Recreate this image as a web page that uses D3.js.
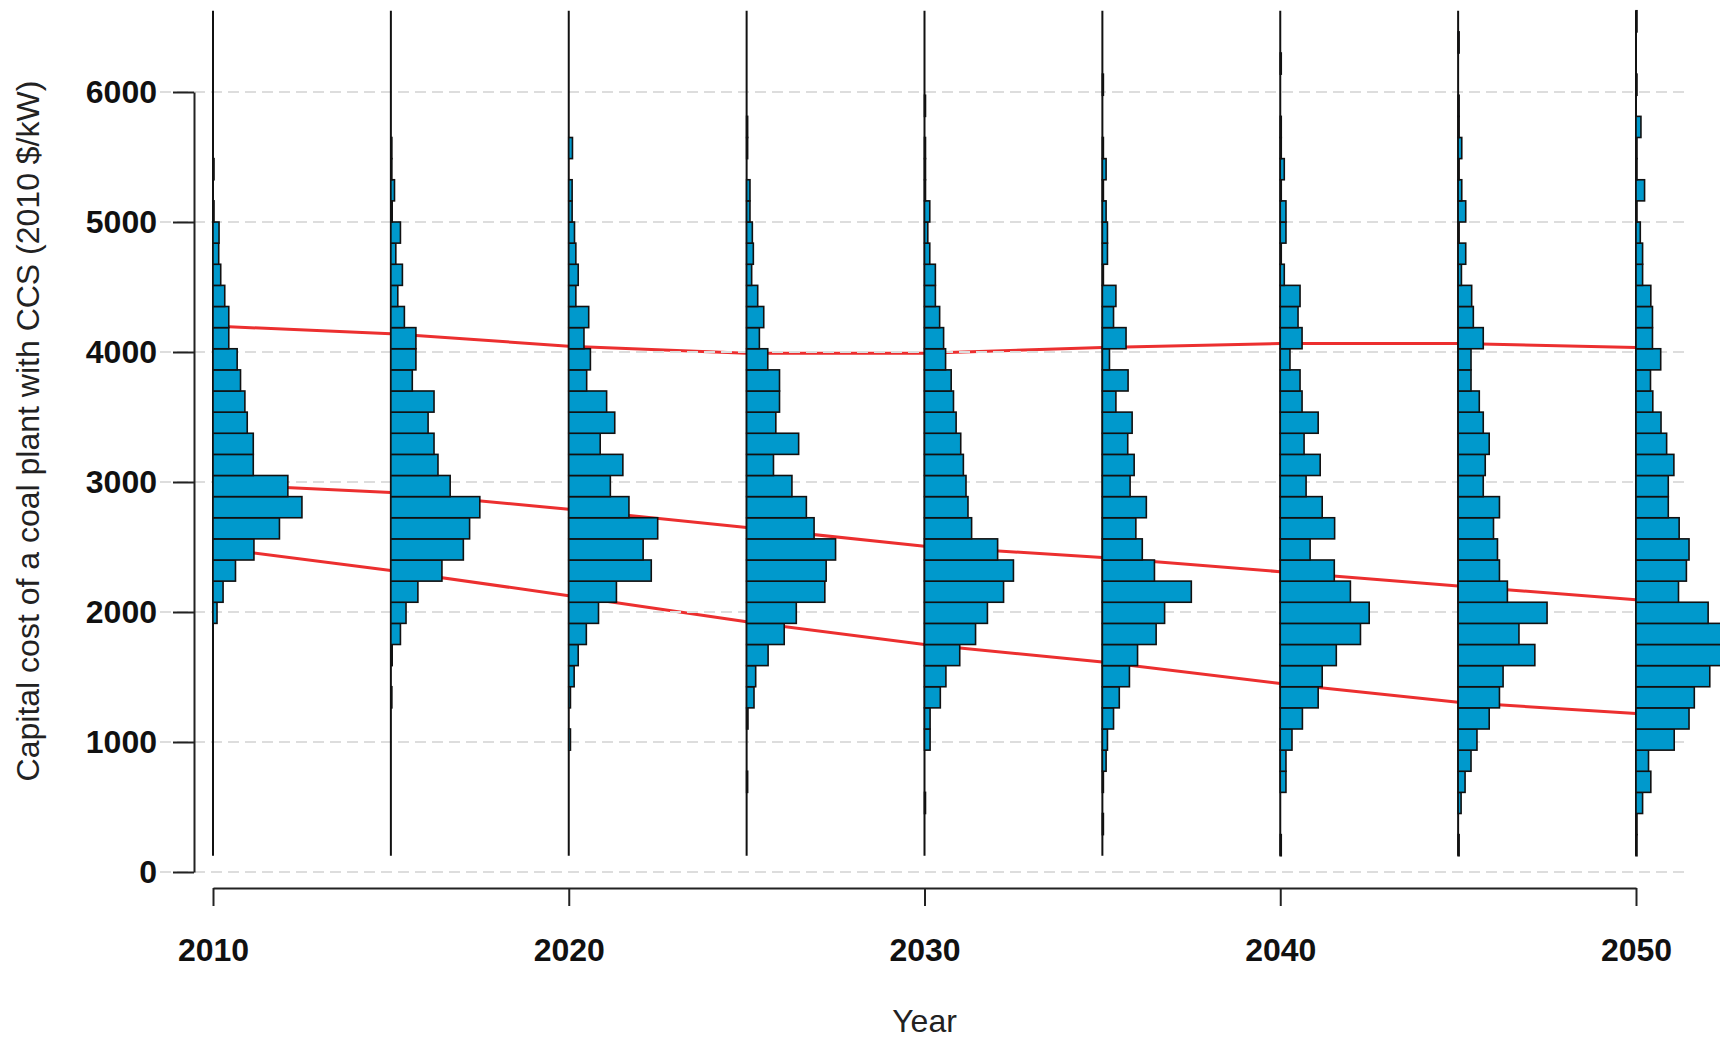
<!DOCTYPE html>
<html>
<head>
<meta charset="utf-8">
<script src="https://cdn.jsdelivr.net/npm/d3@7"></script>
<style>
  html, body { margin: 0; padding: 0; background: #fff; }
  svg { display: block; }
</style>
</head>
<body>
<div id="chart"></div>
<script>
// Capital cost of a coal plant with CCS: sampled distributions every 5 years,
// drawn as sideways histograms, with three red percentile lines across them.

const years = [2010, 2015, 2020, 2025, 2030, 2035, 2040, 2045, 2050];

// histogram breaks: 40 bins of 162.5 $/kW starting at 125
const BIN_START = 125;
const BIN_WIDTH = 162.5;

// counts per bin, lowest bin first (relative)
const hist2010 = [0,0,0,0,0,0,0,0,0,0, 0,12,30,67,122,198,265,223,120,120, 102,95,82,72,47,47,35,23,17,18, 3,0,3,0,0,0,0,0,0,0];
const hist2015 = [0,0,0,0,0,0,0,3,0,4, 29,46,82,155,220,239,270,180,143,131, 113,131,65,76,76,41,21,35,15,29, 4,11,3,3,0,0,0,0,0,0];
const hist2020 = [0,0,0,0,0,5,0,5,16,28, 52,88,141,244,220,263,178,123,160,93, 136,112,53,64,45,59,21,28,21,17, 10,10,0,11,0,0,0,0,0,0];
const hist2025 = [0,0,0,3,0,0,4,22,27,64, 112,148,233,237,265,201,178,135,80,155, 87,98,98,63,38,51,33,15,20,17, 10,10,0,3,3,0,0,0,0,0];
const hist2030 = [0,0,3,0,0,17,17,48,65,107, 155,191,240,270,222,143,132,126,118,110, 96,88,81,64,58,46,33,33,16,10, 16,3,3,3,0,3,0,0,0,0];
const hist2035 = [0,3,0,3,11,15,33,50,80,104, 159,184,263,154,118,99,130,82,94,75, 88,40,76,21,70,33,40,3,15,15, 11,3,11,3,0,0,3,0,0,0];
const hist2040 = [3,0,0,17,17,35,66,113,125,167, 239,265,209,161,89,162,125,77,119,71, 113,65,59,29,65,53,59,12,3,17, 17,3,12,3,3,0,0,3,0,0];
const hist2045 = [3,0,9,21,39,57,94,125,136,232, 184,269,149,125,119,107,125,76,82,94, 76,64,39,39,76,46,41,10,23,3, 23,11,3,11,3,3,0,0,3,0];
const hist2050 = [3,3,20,45,38,116,161,177,224,265, 270,219,129,153,161,131,98,98,115,93, 76,51,44,75,50,50,45,20,20,13, 3,26,3,3,15,0,3,0,0,3];
const histograms = [hist2010, hist2015, hist2020, hist2025, hist2030, hist2035, hist2040, hist2045, hist2050];

// red lines
const upperLine  = [4200, 4140, 4045, 3990, 3990, 4035, 4065, 4065, 4035];
const middleLine = [2985, 2920, 2790, 2650, 2505, 2420, 2310, 2200, 2095];
const lowerLine  = [2495, 2320, 2125, 1925, 1750, 1615, 1450, 1305, 1220];

const yTicks = [0, 1000, 2000, 3000, 4000, 5000, 6000];
const xTicks = [2010, 2020, 2030, 2040, 2050];

const width = 1720, height = 1042;
const HIST_SPAN = 2.5; // tallest bar of each histogram, in years
const FONT = 'Liberation Sans, Arial, sans-serif';

const x = d3.scaleLinear().domain([2010, 2050]).range([213, 1636]);
const y = d3.scaleLinear().domain([0, 6000]).range([872, 92]);

const svg = d3.select('#chart').append('svg')
  .attr('width', width).attr('height', height);

// red percentile lines (under everything else)
const line = d3.line().x((d, i) => x(years[i])).y(d => y(d));
[upperLine, middleLine, lowerLine].forEach(s => {
  svg.append('path').attr('d', line(s))
    .attr('fill', 'none').attr('stroke', '#ec2f2f').attr('stroke-width', 3);
});

// dashed grid
svg.append('g').selectAll('line').data(yTicks).join('line')
  .attr('x1', 160).attr('x2', 1687)
  .attr('y1', d => y(d)).attr('y2', d => y(d))
  .attr('stroke', '#dddddd').attr('stroke-width', 2)
  .attr('stroke-dasharray', '11,6');

// histograms
histograms.forEach((counts, k) => {
  const yr = years[k];
  const maxC = d3.max(counts);
  const g = svg.append('g');
  g.append('line')
    .attr('x1', x(yr)).attr('x2', x(yr))
    .attr('y1', y(BIN_START)).attr('y2', y(BIN_START + BIN_WIDTH * counts.length))
    .attr('stroke', '#111').attr('stroke-width', 2);
  const bins = counts.map((c, i) => ({ c, lo: BIN_START + BIN_WIDTH * i, hi: BIN_START + BIN_WIDTH * (i + 1) }))
    .filter(d => d.c > 0);
  g.selectAll('rect').data(bins).join('rect')
    .attr('x', x(yr))
    .attr('y', d => y(d.hi))
    .attr('width', d => x(yr + HIST_SPAN * d.c / maxC) - x(yr))
    .attr('height', d => y(d.lo) - y(d.hi))
    .attr('fill', '#0099cc').attr('stroke', '#111').attr('stroke-width', 1.6);
});

// y axis
const yAxis = svg.append('g').attr('transform', 'translate(194,0)')
  .call(d3.axisLeft(y).tickValues(yTicks).tickSize(21).tickSizeOuter(0).tickPadding(16).tickFormat(d3.format('d')));
yAxis.select('.domain').attr('stroke', '#222').attr('stroke-width', 2);
yAxis.selectAll('.tick line').attr('stroke', '#222').attr('stroke-width', 2);
yAxis.selectAll('text').attr('font-family', FONT).attr('font-size', 32)
  .attr('font-weight', 'bold').attr('fill', '#111');

// x axis
const xAxis = svg.append('g').attr('transform', 'translate(0,888)')
  .call(d3.axisBottom(x).tickValues(xTicks).tickSize(18).tickSizeOuter(0).tickPadding(32).tickFormat(d3.format('d')));
xAxis.select('.domain').attr('stroke', '#222').attr('stroke-width', 2);
xAxis.selectAll('.tick line').attr('stroke', '#222').attr('stroke-width', 2);
xAxis.selectAll('text').attr('font-family', FONT).attr('font-size', 32)
  .attr('font-weight', 'bold').attr('fill', '#111');

// axis titles
svg.append('text')
  .attr('x', x(2030)).attr('y', 1032).attr('text-anchor', 'middle')
  .attr('font-family', FONT).attr('font-size', 32).attr('fill', '#222')
  .text('Year');

svg.append('text')
  .attr('transform', 'translate(39,431) rotate(-90)')
  .attr('text-anchor', 'middle')
  .attr('font-family', FONT).attr('font-size', 32).attr('fill', '#222')
  .text('Capital cost of a coal plant with CCS (2010 $/kW)');
</script>
</body>
</html>
